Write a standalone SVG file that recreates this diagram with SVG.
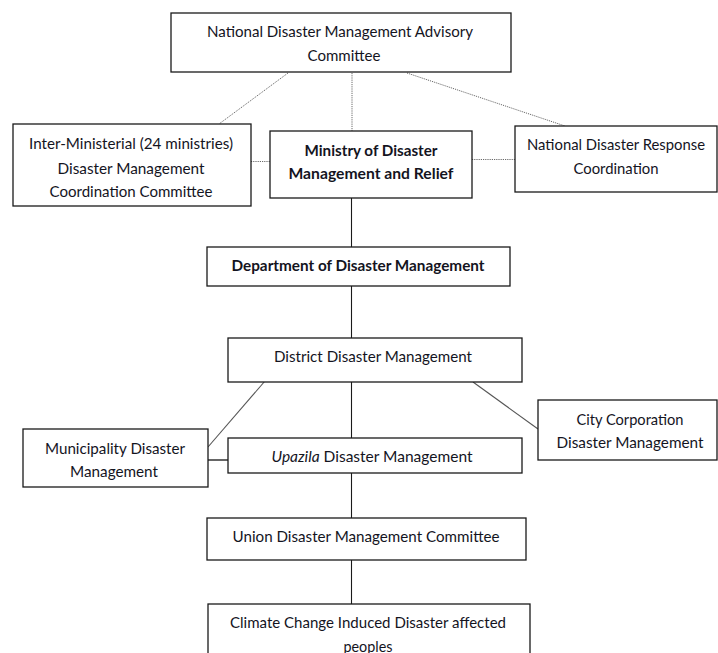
<svg xmlns="http://www.w3.org/2000/svg" width="718" height="653" viewBox="0 0 718 653">
<style>
.box{fill:#fff;stroke:#1a1a1a;stroke-width:1.3}
.t{font-family:Lato,"Open Sans","Liberation Sans",sans-serif;font-size:15px;fill:#14141e;text-anchor:middle}
.b{font-weight:bold}
.dot{stroke:#6a6a6a;stroke-width:1;stroke-dasharray:1.2,1;fill:none}
.sol{stroke:#1a1a1a;stroke-width:1.1;fill:none}
.soft{stroke:#555;stroke-width:1.1;fill:none}
</style>
<rect width="718" height="653" fill="#fff"/>
<g id="connectors">
<line class="dot" x1="288" y1="73" x2="219" y2="124"/>
<line class="dot" x1="352" y1="73" x2="352" y2="131"/>
<line class="dot" x1="407" y1="73" x2="565" y2="126"/>
<line class="dot" x1="251" y1="161.5" x2="270" y2="161.5"/>
<line class="dot" x1="472" y1="159.5" x2="515" y2="159.5"/>
<line class="sol" x1="351.5" y1="198" x2="351.5" y2="247"/>
<line class="sol" x1="351.5" y1="286" x2="351.5" y2="338"/>
<line class="sol" x1="351.5" y1="382" x2="351.5" y2="438"/>
<line class="sol" x1="351.5" y1="473" x2="351.5" y2="518"/>
<line class="sol" x1="351.5" y1="560" x2="351.5" y2="604"/>
<line class="soft" x1="265" y1="381" x2="208" y2="447"/>
<line class="soft" x1="473" y1="382" x2="538" y2="429"/>
<line class="soft" x1="208" y1="460" x2="228" y2="460" style="stroke-width:1.8"/>
</g>
<g id="advisory">
<rect class="box" x="171" y="13" width="340" height="59"/>
<text class="t" x="340" y="36.5" textLength="266" lengthAdjust="spacingAndGlyphs">National Disaster Management Advisory</text>
<text class="t" x="344" y="60.5" textLength="73" lengthAdjust="spacingAndGlyphs">Committee</text>
</g>
<g id="interministerial">
<rect class="box" x="13" y="124" width="238" height="82"/>
<text class="t" x="131" y="148.5" textLength="204" lengthAdjust="spacingAndGlyphs">Inter-Ministerial (24 ministries)</text>
<text class="t" x="131" y="173.5" textLength="147" lengthAdjust="spacingAndGlyphs">Disaster Management</text>
<text class="t" x="131" y="196.5" textLength="163" lengthAdjust="spacingAndGlyphs">Coordination Committee</text>
</g>
<g id="ministry">
<rect class="box" x="270" y="131" width="202" height="67"/>
<text class="t b" x="371" y="155.5" textLength="133" lengthAdjust="spacingAndGlyphs">Ministry of Disaster</text>
<text class="t b" x="371" y="178.5" textLength="165" lengthAdjust="spacingAndGlyphs">Management and Relief</text>
</g>
<g id="response">
<rect class="box" x="515" y="126" width="202" height="66"/>
<text class="t" x="616" y="149.5" textLength="178" lengthAdjust="spacingAndGlyphs">National Disaster Response</text>
<text class="t" x="616" y="173.5" textLength="85" lengthAdjust="spacingAndGlyphs">Coordination</text>
</g>
<g id="department">
<rect class="box" x="207" y="247" width="303" height="39"/>
<text class="t b" x="358" y="270.5" textLength="253" lengthAdjust="spacingAndGlyphs">Department of Disaster Management</text>
</g>
<g id="district">
<rect class="box" x="228" y="338" width="294" height="44"/>
<text class="t" x="373" y="361.5" textLength="198" lengthAdjust="spacingAndGlyphs">District Disaster Management</text>
</g>
<g id="city">
<rect class="box" x="538" y="400" width="179" height="60"/>
<text class="t" x="630" y="424.5" textLength="107" lengthAdjust="spacingAndGlyphs">City Corporation</text>
<text class="t" x="630" y="447.5" textLength="147" lengthAdjust="spacingAndGlyphs">Disaster Management</text>
</g>
<g id="municipality">
<rect class="box" x="23" y="429" width="185" height="58"/>
<text class="t" x="115" y="453.5" textLength="140" lengthAdjust="spacingAndGlyphs">Municipality Disaster</text>
<text class="t" x="114" y="476.5" textLength="88" lengthAdjust="spacingAndGlyphs">Management</text>
</g>
<g id="upazila">
<rect class="box" x="228" y="438" width="294" height="35"/>
<text class="t" x="372" y="461.5" textLength="201" lengthAdjust="spacingAndGlyphs"><tspan font-style="italic">Upazila</tspan> Disaster Management</text>
</g>
<g id="union">
<rect class="box" x="207" y="518" width="319" height="42"/>
<text class="t" x="366" y="541.5" textLength="267" lengthAdjust="spacingAndGlyphs">Union Disaster Management Committee</text>
</g>
<g id="climate">
<rect class="box" x="208" y="604" width="322" height="60"/>
<text class="t" x="368" y="627.5" textLength="276" lengthAdjust="spacingAndGlyphs">Climate Change Induced Disaster affected</text>
<text class="t" x="368" y="651.5" textLength="49" lengthAdjust="spacingAndGlyphs">peoples</text>
</g>
</svg>
